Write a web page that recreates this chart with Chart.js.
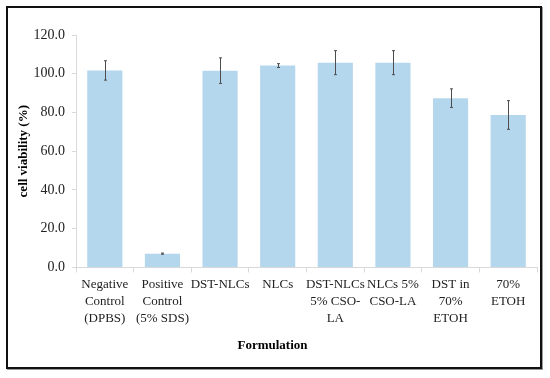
<!DOCTYPE html>
<html>
<head>
<meta charset="utf-8">
<script src="https://cdn.jsdelivr.net/npm/chart.js@4/dist/chart.umd.min.js"></script>
<style>
  html, body { margin: 0; padding: 0; background: #fff; }
  #frame { position: absolute; left: 6px; top: 6px; width: 532px; height: 359px;
           border: 2px solid #111; box-shadow: 1px 1px 0 #999; background: #fff; }
  #c { display: block; }
</style>
</head>
<body>
<div id="frame"><canvas id="c" width="532" height="359"></canvas></div>
<script>
const categories = [
  ["Negative", "Control", "(DPBS)"],
  ["Positive", "Control", "(5% SDS)"],
  "DST-NLCs",
  "NLCs",
  ["DST-NLCs", "5% CSO-", "LA"],
  ["NLCs 5%", "CSO-LA"],
  ["DST in", "70%", "ETOH"],
  ["70%", "ETOH"]
];
const viability = [101.7, 7.1, 101.6, 104.2, 105.7, 105.7, 87.4, 78.7];
const errors = [5.0, 0.3, 6.6, 1.0, 6.2, 6.2, 4.8, 7.4];
const yTicks = [0, 20, 40, 60, 80, 100, 120];

const errorBars = {
  id: 'errorBars',
  afterDatasetsDraw(chart) {
    const ctx = chart.ctx;
    const meta = chart.getDatasetMeta(0);
    const y = chart.scales.y;
    ctx.save();
    ctx.strokeStyle = '#4d4d4d';
    ctx.lineWidth = 1;
    meta.data.forEach((bar, i) => {
      const x = Math.round(bar.x) + 0.5;
      const top = y.getPixelForValue(viability[i] + errors[i]);
      const bot = y.getPixelForValue(viability[i] - errors[i]);
      ctx.beginPath();
      ctx.moveTo(x, top); ctx.lineTo(x, bot);
      ctx.moveTo(x - 1.5, top); ctx.lineTo(x + 1.5, top);
      ctx.moveTo(x - 1.5, bot); ctx.lineTo(x + 1.5, bot);
      ctx.stroke();
    });
    ctx.restore();
  }
};

const serif = "'Liberation Serif', 'Times New Roman', serif";

new Chart(document.getElementById('c'), {
  type: 'bar',
  data: {
    labels: categories,
    datasets: [{
      data: viability,
      backgroundColor: 'rgb(180,215,238)',
      borderWidth: 0,
      barPercentage: 0.61,
      categoryPercentage: 1.0
    }]
  },
  options: {
    responsive: false,
    animation: false,
    layout: { padding: { left: 0, right: 3, top: 27, bottom: 4 } },
    plugins: {
      legend: { display: false },
      tooltip: { enabled: false },
      title: {
        display: true,
        position: 'bottom',
        text: 'Formulation',
        color: '#000',
        font: { family: serif, size: 13, weight: 'bold', lineHeight: 1.2 },
        padding: { top: 10, bottom: 10 }
      }
    },
    scales: {
      x: {
        afterFit(scale) { scale.height = 60; },
        grid: { offset: true, drawOnChartArea: false, drawTicks: true, tickLength: 5, color: '#d9d9d9' },
        border: { color: '#d9d9d9' },
        ticks: {
          color: '#222',
          font: { family: serif, size: 13, lineHeight: 1.3 },
          padding: 4,
          maxRotation: 0,
          autoSkip: false
        }
      },
      y: {
        min: 0,
        max: 120,
        afterFit(scale) { scale.width = 68; },
        afterBuildTicks(scale) { scale.ticks = yTicks.map(v => ({ value: v })); },
        grid: { drawOnChartArea: false, drawTicks: true, tickLength: 4, color: '#d9d9d9' },
        border: { color: '#d9d9d9' },
        ticks: {
          color: '#222',
          font: { family: serif, size: 14 },
          padding: 7,
          callback: v => Number(v).toFixed(1)
        },
        title: {
          display: true,
          text: 'cell viability (%)',
          color: '#000',
          font: { family: serif, size: 13, weight: 'bold', lineHeight: 1.2 },
          padding: { top: 8, bottom: 0 }
        }
      }
    }
  },
  plugins: [errorBars]
});
</script>
</body>
</html>
